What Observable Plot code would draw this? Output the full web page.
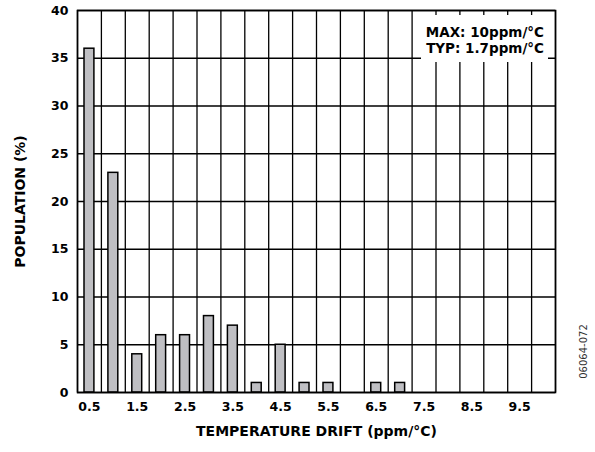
<!DOCTYPE html>
<html>
<head>
<meta charset="utf-8">
<script src="https://cdn.jsdelivr.net/npm/d3@7"></script>
<script src="https://cdn.jsdelivr.net/npm/@observablehq/plot@0.6"></script>
<style>
  body { margin: 0; background: #fff; }
  #wrap { position: relative; width: 595px; height: 452px; }
  #legend {
    position: absolute; left: 421px; top: 15px; width: 123px; height: 38px;
    padding: 9px 4px 0 0; background: #fff; text-align: right;
    font: bold 13.5px "DejaVu Sans"; line-height: 16px; color: #000;
  }
</style>
</head>
<body>
<div id="wrap"></div>
<script>
// Data
const drift = [0.5, 1.0, 1.5, 2.0, 2.5, 3.0, 3.5, 4.0, 4.5, 5.0, 5.5, 6.0, 6.5, 7.0, 7.5, 8.0, 8.5, 9.0, 9.5, 10.0];
const population = [36, 23, 4, 6, 6, 8, 7, 1, 5, 1, 1, 0, 1, 1, 0, 0, 0, 0, 0, 0];
const xTicks = [0.5, 1.5, 2.5, 3.5, 4.5, 5.5, 6.5, 7.5, 8.5, 9.5];
const yTicks = [0, 5, 10, 15, 20, 25, 30, 35, 40];
const legendLines = ["MAX: 10ppm/°C", "TYP: 1.7ppm/°C"];
const xTitle = "TEMPERATURE DRIFT (ppm/°C)";
const yTitle = "POPULATION (%)";
const figureId = "06064-072";

const binHalf = 0.25;
const rows = drift.map((x, i) => ({x, p: population[i]})).filter(d => d.p > 0);
const edges = drift.map(x => x - binHalf).concat([drift[drift.length - 1] + binHalf]);

const chart = Plot.plot({
  width: 595,
  height: 452,
  marginLeft: 77,
  marginRight: 40,
  marginTop: 10,
  marginBottom: 60,
  style: {fontFamily: "DejaVu Sans", fontSize: "13px", color: "#000", background: "#fff"},
  x: {domain: [drift[0] - binHalf, drift[drift.length - 1] + binHalf]},
  y: {domain: [0, 40]},
  marks: [
    Plot.gridY(yTicks, {stroke: "#000", strokeOpacity: 1, strokeWidth: 1.3}),
    Plot.ruleX(edges, {stroke: "#000", strokeWidth: 1.3}),
    Plot.rectY(rows, {x1: d => d.x - binHalf, x2: d => d.x + binHalf, y: "p", insetLeft: 7, insetRight: 7, fill: "#bfbfc3", stroke: "#000", strokeWidth: 1.5}),
    Plot.frame({stroke: "#000", strokeWidth: 1.6}),
    Plot.axisY(yTicks, {tickSize: 0, tickPadding: 9, fontWeight: "bold", fontSize: 12.5, label: null, tickFormat: d => String(d)}),
    Plot.axisX(xTicks, {tickSize: 0, tickPadding: 10, fontWeight: "bold", fontSize: 12.5, label: null, tickFormat: d => d.toFixed(1)}),
    Plot.text([xTitle], {frameAnchor: "bottom", dy: 43, fontWeight: "bold", fontSize: 14, text: d => d}),
    Plot.text([yTitle], {frameAnchor: "left", textAnchor: "middle", lineAnchor: "middle", dx: -57, rotate: -90, fontWeight: "bold", fontSize: 14, text: d => d}),
    Plot.text([figureId], {frameAnchor: "bottom-right", textAnchor: "middle", lineAnchor: "middle", dx: 28, dy: -41, rotate: -90, fontSize: 10, fill: "#333", text: d => d})
  ]
});

const wrap = document.getElementById("wrap");
wrap.appendChild(chart);
const legend = document.createElement("div");
legend.id = "legend";
legend.innerHTML = legendLines.join("<br>");
wrap.appendChild(legend);
</script>
</body>
</html>
